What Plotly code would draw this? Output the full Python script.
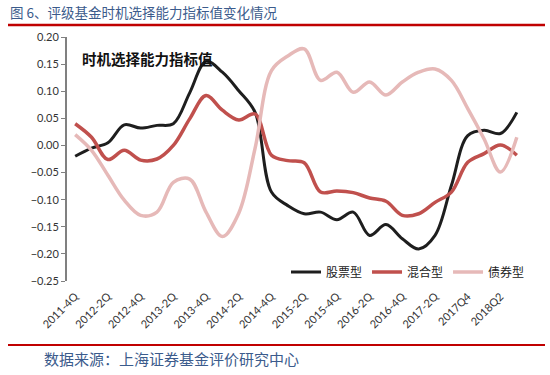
import plotly.graph_objects as go

# ---------------- data ----------------
quarters = ["2011Q4", "2012Q1", "2012Q2", "2012Q3", "2012Q4", "2013Q1", "2013Q2",
            "2013Q3", "2013Q4", "2014Q1", "2014Q2", "2014Q3", "2014Q4", "2015Q1",
            "2015Q2", "2015Q3", "2015Q4", "2016Q1", "2016Q2", "2016Q3", "2016Q4",
            "2017Q1", "2017Q2", "2017Q3", "2017Q4", "2018Q1", "2018Q2", "2018Q3"]
tick_labels = ["2011-4Q", "2012-2Q", "2012-4Q", "2013-2Q", "2013-4Q", "2014-2Q", "2014-4Q",
               "2015-2Q", "2015-4Q", "2016-2Q", "2016-4Q", "2017-2Q", "2017Q4", "2018Q2"]
stock = [-0.020, -0.005, 0.005, 0.038, 0.032, 0.037, 0.040, 0.097, 0.155, 0.135,
         0.101, 0.061, -0.086, -0.111, -0.126, -0.123, -0.137, -0.123, -0.166, -0.146,
         -0.172, -0.191, -0.166, -0.074, 0.018, 0.028, 0.022, 0.061]
mixed = [0.040, 0.015, -0.026, -0.009, -0.027, -0.025, 0.000, 0.049, 0.092, 0.065,
         0.047, 0.058, -0.018, -0.028, -0.032, -0.086, -0.084, -0.087, -0.097, -0.103,
         -0.129, -0.126, -0.105, -0.086, -0.031, -0.015, 0.001, -0.018]
bond = [0.020, -0.009, -0.055, -0.101, -0.129, -0.123, -0.068, -0.062, -0.123, -0.168,
        -0.125, -0.005, 0.138, 0.165, 0.178, 0.120, 0.135, 0.098, 0.117, 0.093,
        0.117, 0.135, 0.141, 0.120, 0.068, 0.012, -0.049, 0.015]
series_names = ["股票型", "混合型", "债券型"]

title_text = "图 6、评级基金时机选择能力指标值变化情况"
inner_title = "时机选择能力指标值"
source_text = "数据来源：上海证券基金评价研究中心"

# ---------------- layout helpers ----------------
W, H = 550, 375
L, R, T, B = 67, 25, 37, 94
PW, PH = W - L - R, H - T - B


def px(x):
    return (x - L) / PW


def py(y):
    return (H - B - y) / PH


CJK = "Noto Sans CJK SC"
AX = "#808080"
idx = list(range(len(quarters)))

fig = go.Figure()
styles = [("#1E1E1E", 3), ("#C0504D", 3.5), ("#E6B9B8", 3.5)]
for name, vals, (color, width) in zip(series_names, [stock, mixed, bond], styles):
    fig.add_trace(go.Scatter(
        x=idx, y=vals, name=name, mode="lines",
        line=dict(color=color, width=width, shape="spline", smoothing=1.0),
        hoverinfo="skip"))

ymin, ymax = -0.25, 0.20
fig.update_layout(
    width=W, height=H,
    margin=dict(l=L, r=R, t=T, b=B),
    paper_bgcolor="white", plot_bgcolor="white",
    font=dict(family="Lato, " + CJK, color="#333333", size=11),
    showlegend=True,
    legend=dict(orientation="h", x=px(530), xanchor="right", y=py(272), yanchor="middle",
                font=dict(family=CJK, size=12, color="#222222"),
                bgcolor="rgba(0,0,0,0)", itemwidth=30, tracegroupgap=0),
    xaxis=dict(range=[-0.5, len(quarters) - 0.5], tickmode="array",
               tickvals=idx[::2], ticktext=tick_labels, tickangle=-45,
               showline=False, ticks="", showgrid=False, zeroline=False,
               ticklabelstandoff=6, tickfont=dict(size=11, color="#333333")),
    xaxis2=dict(overlaying="x", matches="x", anchor="free",
                position=(0 - ymin) / (ymax - ymin),
                tickmode="array", tickvals=[i - 0.5 for i in range(len(quarters) + 1)],
                ticks="outside", ticklen=3, tickcolor=AX, tickwidth=1,
                showticklabels=False, showline=True, linecolor=AX, linewidth=2,
                showgrid=False, zeroline=False),
    yaxis=dict(range=[ymin, ymax], dtick=0.05, tickformat=".2f",
               ticks="outside", ticklen=4, tickcolor=AX, tickwidth=1,
               showline=True, linecolor=AX, linewidth=2, showgrid=False,
               zeroline=False, tickfont=dict(size=11, color="#333333")),
)

# axis arrows
fig.add_annotation(x=-0.5, y=0.205, xref="x", yref="y", ax=0, ay=12,
                   showarrow=True, arrowhead=4, arrowsize=1.1, arrowwidth=2,
                   arrowcolor=AX, text="")
fig.add_annotation(x=len(quarters) - 0.45, y=0, xref="x", yref="y", ax=-12, ay=0,
                   showarrow=True, arrowhead=4, arrowsize=1.1, arrowwidth=2,
                   arrowcolor=AX, text="")

# texts
fig.add_annotation(x=px(8), y=py(12), xref="paper", yref="paper", xanchor="left",
                   yanchor="middle", text=title_text, showarrow=False,
                   font=dict(family=CJK, size=13.5, color="#3B5B8C"))
fig.add_annotation(x=px(80), y=py(58), xref="paper", yref="paper", xanchor="left",
                   yanchor="middle", text="<b>" + inner_title + "</b>", showarrow=False,
                   font=dict(family=CJK, size=14.5, color="#111111"))
fig.add_annotation(x=px(42), y=py(358), xref="paper", yref="paper", xanchor="left",
                   yanchor="middle", text=source_text, showarrow=False,
                   font=dict(family=CJK, size=15, color="#3B5B8C"))

# red rules
fig.add_shape(type="line", xref="paper", yref="paper", x0=px(8), x1=px(545),
              y0=py(25), y1=py(25), line=dict(color="#C00000", width=2.5))
fig.add_shape(type="line", xref="paper", yref="paper", x0=px(8), x1=px(545),
              y0=py(345), y1=py(345), line=dict(color="#C00000", width=2))

fig.write_html("out.html", config={"displayModeBar": False},
               post_script="document.body.style.margin='0';")
